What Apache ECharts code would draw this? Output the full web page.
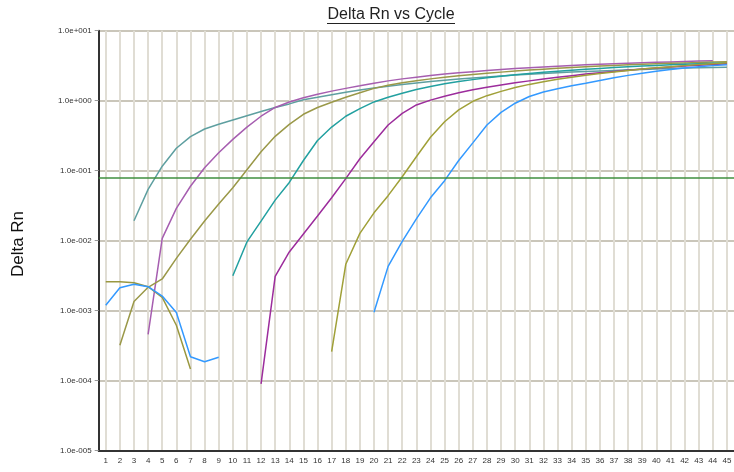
<!DOCTYPE html>
<html><head><meta charset="utf-8">
<script src="https://cdn.jsdelivr.net/npm/echarts@6/dist/echarts.min.js"></script>
<style>html,body{margin:0;padding:0;background:#fff}#c{width:734px;height:472px}</style>
</head><body><div id="c"></div>
<script>
// ---- data ----
const cycles = [1,2,3,4,5,6,7,8,9,10,11,12,13,14,15,16,17,18,19,20,21,22,23,24,25,26,27,28,29,30,31,32,33,34,35,36,37,38,39,40,41,42,43,44,45];
const yTicks = [1e-5, 1e-4, 1e-3, 1e-2, 1e-1, 1, 10];
const yTickLabels = ['1.0e-005','1.0e-004','1.0e-003','1.0e-002','1.0e-001','1.0e+000','1.0e+001'];
const threshold = 0.0805;

const tealGreyStart = 3;
const tealGrey = [0.0193,0.054,0.116,0.209,0.306,0.394,0.46,0.53,0.61,0.70,0.80,0.90,1.03,1.12,1.22,1.32,1.42,1.52,1.61,1.70,1.79,1.88,1.96,2.04,2.11,2.18,2.25,2.32,2.38,2.44,2.50,2.56,2.61,2.66,2.71,2.76,2.80,2.84,2.88,2.92,2.95,2.98,3.01];

const purple1Start = 4;
const purple1 = [4.6e-4,0.0108,0.029,0.06,0.11,0.18,0.28,0.42,0.60,0.80,0.96,1.10,1.24,1.37,1.50,1.63,1.78,1.92,2.05,2.17,2.29,2.40,2.50,2.60,2.70,2.79,2.88,2.96,3.04,3.11,3.18,3.25,3.31,3.37,3.43,3.48,3.53,3.58,3.63,3.68,3.73];

const olive1Start = 2;
const olive1 = [3.2e-4,1.35e-3,2.16e-3,2.84e-3,5.6e-3,0.0105,0.0191,0.0334,0.057,0.103,0.187,0.31,0.46,0.64,0.80,0.95,1.12,1.30,1.50,1.66,1.80,1.93,2.05,2.16,2.27,2.37,2.47,2.56,2.65,2.74,2.82,2.90,2.98,3.05,3.12,3.19,3.25,3.31,3.37,3.42,3.47,3.52,3.56,3.60];

const tealStart = 10;
const teal = [3.16e-3,9.6e-3,0.019,0.038,0.068,0.14,0.27,0.42,0.60,0.77,0.96,1.12,1.28,1.45,1.60,1.75,1.88,2.00,2.12,2.23,2.34,2.44,2.54,2.63,2.72,2.81,2.89,2.97,3.05,3.12,3.19,3.25,3.31,3.37,3.42,3.47];

const purple2Start = 12;
const purple2 = [9e-5,3.1e-3,6.9e-3,0.0125,0.0225,0.041,0.077,0.148,0.26,0.45,0.66,0.87,1.02,1.16,1.30,1.43,1.56,1.68,1.80,1.92,2.04,2.16,2.28,2.40,2.51,2.62,2.73,2.83,2.93,3.03,3.12,3.21,3.29,3.37];

const olive2Start = 17;
const olive2 = [2.6e-4,4.6e-3,0.0127,0.025,0.044,0.082,0.158,0.30,0.50,0.74,0.98,1.18,1.36,1.54,1.71,1.87,2.02,2.17,2.31,2.45,2.58,2.71,2.83,2.95,3.06,3.17,3.28,3.38,3.48];

const blueStart = 20;
const blue = [9.5e-4,4.3e-3,9.8e-3,0.0205,0.041,0.072,0.14,0.25,0.45,0.68,0.92,1.15,1.33,1.48,1.63,1.78,1.95,2.12,2.30,2.47,2.63,2.78,2.93,3.06,3.17,3.27];

const ntcOliveStart = 1;
const ntcOlive = [2.6e-3,2.6e-3,2.5e-3,2.2e-3,1.55e-3,6.2e-4,1.47e-4];

const ntcBlueStart = 1;
const ntcBlue = [1.2e-3,2.13e-3,2.38e-3,2.2e-3,1.62e-3,9.4e-4,2.2e-4,1.87e-4,2.16e-4];

// ---- chart ----
function pts(start, vals) { return vals.map((v, i) => [start + i, v]); }
function line(name, start, vals, color) {
  return { name, type: 'line', data: pts(start, vals), symbol: 'none', showSymbol: false,
    lineStyle: { color, width: 1.5 }, itemStyle: { color }, animation: false, z: 3 };
}

const series = [
  line('tealGrey', tealGreyStart, tealGrey, '#5e9fa0'),
  line('purple1', purple1Start, purple1, '#a65eb0'),
  line('olive1', olive1Start, olive1, '#9a9848'),
  line('teal', tealStart, teal, '#22a0a0'),
  line('purple2', purple2Start, purple2, '#9c2c9c'),
  line('olive2', olive2Start, olive2, '#a0a038'),
  line('blue', blueStart, blue, '#3399ff'),
  line('ntcOlive', ntcOliveStart, ntcOlive, '#9a9840'),
  line('ntcBlue', ntcBlueStart, ntcBlue, '#3399ff')
];
series[0].markLine = {
  silent: true, symbol: 'none', label: { show: false },
  lineStyle: { color: '#3f8f3f', width: 1.5, type: 'solid' },
  data: [{ yAxis: threshold }]
};

const chart = echarts.init(document.getElementById('c'), null, { renderer: 'canvas' });
chart.setOption({
  animation: false,
  backgroundColor: '#ffffff',
  textStyle: { fontFamily: 'Liberation Sans, Arial, sans-serif' },
  grid: { left: 98.7, right: 0, top: 30.7, bottom: 21.3, containLabel: false, outerBoundsMode: 'none' },
  xAxis: {
    type: 'value', min: 0.5, max: 45.5,
    axisLine: { show: true, onZero: false, lineStyle: { color: '#333', width: 2 } },
    axisTick: { show: false, customValues: cycles },
    axisLabel: { customValues: cycles, fontSize: 8, color: '#333', margin: 6, fontFamily: 'Liberation Sans' },
    splitLine: { show: true, lineStyle: { color: '#e0ddd4', width: 2 } }
  },
  yAxis: {
    type: 'log', logBase: 10, min: 1e-5, max: 10,
    axisLine: { show: true, onZero: false, lineStyle: { color: '#333', width: 2 } },
    axisTick: { show: true, length: 4, lineStyle: { color: '#999' } },
    axisLabel: {
      fontSize: 8, color: '#333', margin: 7, fontFamily: 'Liberation Sans',
      formatter: v => yTickLabels[Math.round(Math.log10(v)) + 5]
    },
    splitLine: { show: true, lineStyle: { color: '#cac6ba', width: 2 } }
  },
  graphic: [
    { type: 'text', x: 391, y: 15, style: { text: 'Delta Rn vs Cycle', font: '16px "Liberation Sans"', fill: '#222', textAlign: 'center', textVerticalAlign: 'middle' } },
    { type: 'line', shape: { x1: 327, y1: 23.5, x2: 455, y2: 23.5 }, style: { stroke: '#222', lineWidth: 1 } },
    { type: 'text', x: 18, y: 244, rotation: Math.PI / 2, style: { text: 'Delta Rn', font: '17px "Liberation Sans"', fill: '#111', textAlign: 'center', textVerticalAlign: 'middle' } }
  ],
  series
});
</script>
</body></html>
